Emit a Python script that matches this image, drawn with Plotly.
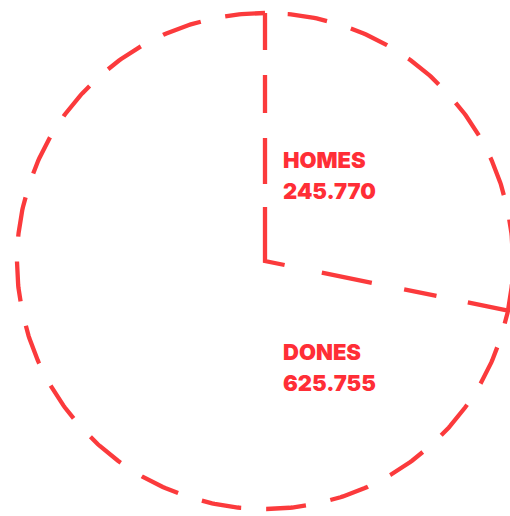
import numpy as np
import plotly.graph_objects as go

categories = ["HOMES", "DONES"]
values = [245770, 625755]

RED = "#fb3a3c"
TEXT_RED = "#ff2e36"
total = sum(values)
fracs = [v / total for v in values]

fig = go.Figure()
arc_style = dict(color=RED, width=4.3, dash="40px,25px")
rad_style = dict(color=RED, width=4.3,
                 dash="37px,25px,38px,25px,46px,23px,74px,38px,51px,33px,33px,32px,50px,20px")

# slice boundaries (clockwise from 12 o'clock)
cum = np.cumsum([0] + fracs)
angles = cum * 2 * np.pi
# outer circle, drawn counter-clockwise from the top
t = np.linspace(0, -2 * np.pi, 600)
fig.add_trace(go.Scatter(x=np.sin(t), y=np.cos(t), mode="lines",
                         line=arc_style, hoverinfo="skip", showlegend=False))
# radii: top -> center -> slice boundary
rx = [np.sin(angles[0]), 0, np.sin(angles[1])]
ry = [np.cos(angles[0]), 0, np.cos(angles[1])]
fig.add_trace(go.Scatter(x=rx, y=ry, mode="lines", line=rad_style,
                         hoverinfo="skip", showlegend=False))

label_pos = [(0.064, 0.408, 0.283), (0.064, -0.365, -0.49)]
font = dict(family="Inter, Liberation Sans, Arial, sans-serif", size=22,
            color=TEXT_RED, weight=900)
for cat, v, (lx, ly1, ly2) in zip(categories, values, label_pos):
    txt = f"{v:,}".replace(",", ".")
    fig.add_annotation(x=lx, y=ly1, xanchor="left", yanchor="middle",
                       text=cat, showarrow=False, font=font)
    fig.add_annotation(x=lx, y=ly2, xanchor="left", yanchor="middle",
                       text=txt, showarrow=False, font=font)

px = 248.0
fig.update_layout(
    width=510, height=516,
    margin=dict(l=0, r=0, t=0, b=0),
    paper_bgcolor="white", plot_bgcolor="white",
    xaxis=dict(range=[-265 / px, (510 - 265) / px], visible=False, fixedrange=True),
    yaxis=dict(range=[-(516 - 261) / px, 261 / px], visible=False, fixedrange=True),
)
fig.write_html("out.html", config={"displayModeBar": False},
               post_script="document.body.style.margin='0';document.body.style.overflow='hidden';")
